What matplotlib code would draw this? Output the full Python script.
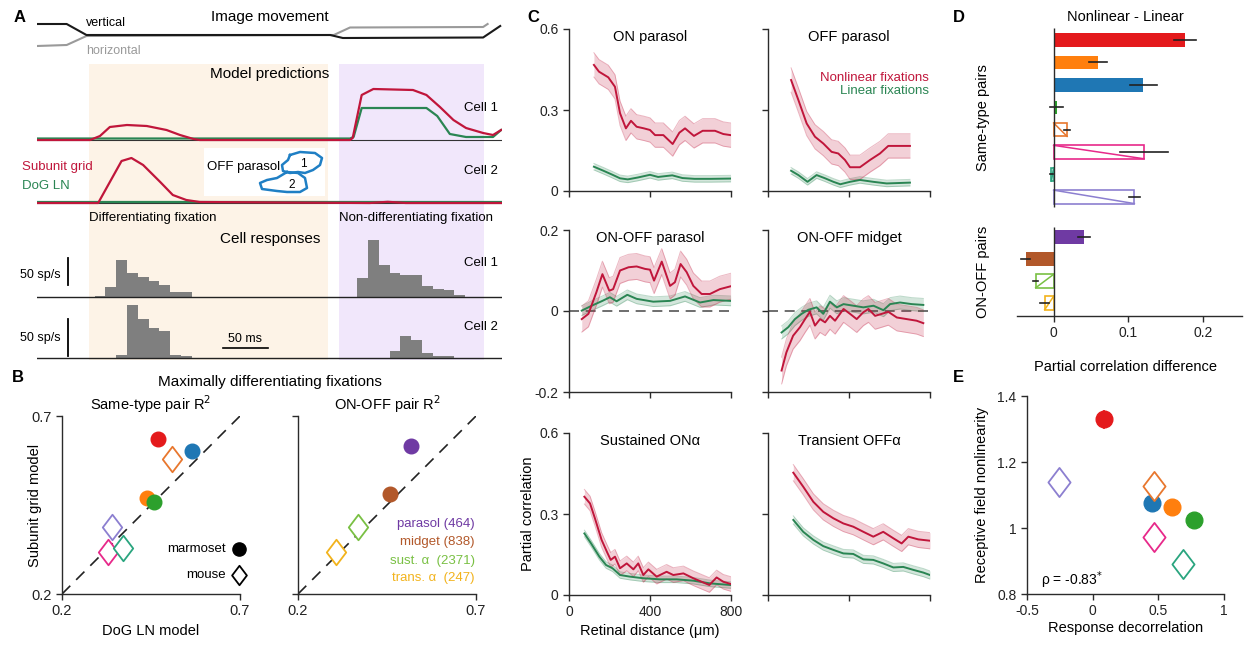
import numpy as np
import matplotlib
matplotlib.use('Agg')
import matplotlib.pyplot as plt
from matplotlib.path import Path

plt.rcParams['font.family'] = ['Liberation Sans', 'DejaVu Sans']
plt.rcParams['axes.linewidth'] = 1.0
plt.rcParams['xtick.major.width'] = 1.0
plt.rcParams['ytick.major.width'] = 1.0

# ---------------- data ----------------
# A: image movement (ms, arbitrary position)
vert_t = [0, 33, 55, 326, 340, 496, 515]
vert = [22, 22, 11, 11, 8, 8.5, 20]
horiz_t = [0, 33, 55, 330, 348, 496, 501]
horiz = [0, 1, 10, 11, 18.5, 19, 22]
diff_fix = (58, 323)
nondiff_fix = (336, 497)

# A: model predictions (arbitrary units)
m1_t = [0, 59, 70, 81, 100, 122, 144, 159, 174, 181, 348, 351, 361, 374, 418, 433, 448, 463, 477, 496, 507, 516]
m1_sub = [0, 0, 4, 13, 15, 14, 10, 5, 1, 0, 0, 2, 45, 51, 50, 45, 33, 20, 12, 7, 5, 10]
m1_dog_t = [0, 348, 352, 361, 433, 445, 459, 477, 507, 516]
m1_dog = [1.5, 1.5, 3, 32, 32, 24, 6, 3, 3, 10]
m2_t = [0, 68, 94, 105, 118, 137, 151, 166, 181, 370, 390, 410, 517]
m2_sub = [0, 0, 42, 45, 38, 21, 8, 3, 1, 0, 1.2, 0, 0]
m2_dog_t = [0, 517]
m2_dog = [0.6, 0.6]

# A: cell responses (bin start ms, rate sp/s)
r1_diff_t = [64, 76, 88, 100, 112, 124, 136, 148, 160]
r1_diff = [2, 18, 68, 44, 37, 30, 22, 9, 9]
r1_nd_t = [356, 368, 380, 392, 404, 416, 428, 440, 452, 464]
r1_nd = [35, 105, 59, 44, 41, 41, 20, 15, 13, 4]
r2_diff_t = [88, 100, 112, 124, 136, 148, 160]
r2_diff = [4, 72, 53, 41, 36, 4, 3]
r2_nd_t = [392, 404, 416, 428, 440, 452]
r2_nd = [9, 30, 24, 7, 3, 3]
bin_ms = 12

# A: receptive field outlines of the OFF parasol pair
rf1_x = [290, 300, 315, 322, 320, 313, 305, 298, 290, 283, 282, 288, 290]
rf1_y = [155, 152, 153, 158, 165, 170, 173, 172, 173, 171, 165, 160, 155]
rf2_x = [287, 298, 305, 307, 300, 287, 277, 262, 260, 267, 277, 282, 287]
rf2_y = [172, 173, 178, 188, 192, 192, 191, 189, 183, 180, 178, 175, 172]

# B: R^2 scatter
same_x = [0.470, 0.565, 0.439, 0.458, 0.509, 0.341, 0.330, 0.371]
same_y = [0.635, 0.602, 0.470, 0.458, 0.579, 0.388, 0.318, 0.329]
same_col = ['#e41a1c', '#1f77b4', '#ff7f0e', '#2ca02c', '#e8772e', '#8c7fd0', '#e7298a', '#2aa57f']
same_marmoset = [True, True, True, True, False, False, False, False]
onoff_x = [0.517, 0.458, 0.368, 0.307]
onoff_y = [0.616, 0.481, 0.388, 0.318]
onoff_col = ['#6f3aa3', '#b2582a', '#79c043', '#f2b31c']
onoff_marmoset = [True, True, False, False]
onoff_names = ['parasol (464)', 'midget (838)', 'sust. \u03b1  (2371)', 'trans. \u03b1  (247)']

# C: partial correlation vs distance
onp_x_nl = [123, 148, 194, 227, 252, 281, 306, 334, 370, 400, 425, 466, 512, 545, 573, 617, 660, 721, 762, 798]
onp_nl = [0.467, 0.442, 0.421, 0.386, 0.288, 0.232, 0.260, 0.238, 0.232, 0.226, 0.207, 0.207, 0.174, 0.216, 0.232, 0.204, 0.223, 0.223, 0.211, 0.207]
onp_x_lin = [123, 170, 215, 252, 290, 340, 400, 440, 510, 560, 620, 700, 798]
onp_lin = [0.090, 0.075, 0.060, 0.047, 0.043, 0.050, 0.060, 0.052, 0.058, 0.048, 0.045, 0.045, 0.046]
offp_x_nl = [114, 150, 191, 232, 273, 314, 347, 380, 405, 454, 504, 553, 594, 701]
offp_nl = [0.411, 0.337, 0.250, 0.201, 0.176, 0.145, 0.139, 0.115, 0.088, 0.088, 0.115, 0.139, 0.167, 0.167]
offp_x_lin = [114, 150, 195, 240, 282, 323, 357, 405, 454, 520, 586, 701]
offp_lin = [0.075, 0.059, 0.034, 0.059, 0.047, 0.034, 0.025, 0.034, 0.041, 0.034, 0.028, 0.031]
oop_x_nl = [63, 96, 135, 165, 199, 218, 252, 294, 334, 375, 400, 420, 458, 499, 523, 551, 581, 614, 655, 696, 745, 798]
oop_nl = [-0.020, -0.007, 0.046, 0.091, 0.050, 0.054, 0.100, 0.108, 0.110, 0.104, 0.102, 0.075, 0.122, 0.062, 0.071, 0.116, 0.096, 0.062, 0.042, 0.042, 0.054, 0.061]
oop_x_lin = [63, 112, 165, 202, 235, 288, 334, 416, 499, 573, 647, 713, 798]
oop_lin = [0.001, 0.013, 0.025, 0.034, 0.024, 0.040, 0.030, 0.023, 0.025, 0.036, 0.021, 0.027, 0.025]
oom_x_nl = [67, 91, 124, 158, 183, 207, 232, 257, 282, 306, 331, 373, 405, 438, 471, 496, 529, 562, 594, 636, 685, 734, 767]
oom_nl = [-0.147, -0.102, -0.061, -0.040, -0.020, -0.002, -0.036, -0.020, -0.028, -0.012, -0.024, 0.005, -0.007, -0.020, -0.003, 0.005, -0.012, -0.007, -0.002, -0.016, -0.020, -0.024, -0.030]
oom_x_lin = [67, 100, 133, 166, 199, 240, 273, 306, 340, 373, 422, 471, 521, 570, 603, 652, 710, 767]
oom_lin = [-0.053, -0.040, -0.020, -0.007, 0.003, 0.009, -0.007, 0.023, 0.009, 0.017, 0.013, 0.009, 0.013, 0.002, 0.017, 0.021, 0.017, 0.015]
son_x_nl = [76, 104, 128, 161, 189, 206, 227, 252, 285, 318, 342, 367, 392, 433, 482, 515, 565, 614, 655, 693, 729, 762, 798]
son_nl = [0.364, 0.339, 0.284, 0.204, 0.157, 0.130, 0.142, 0.099, 0.117, 0.095, 0.117, 0.074, 0.095, 0.068, 0.086, 0.074, 0.080, 0.062, 0.049, 0.037, 0.065, 0.049, 0.041]
son_x_lin = [76, 109, 150, 183, 215, 252, 301, 367, 449, 531, 614, 697, 798]
son_lin = [0.228, 0.191, 0.142, 0.111, 0.099, 0.074, 0.068, 0.062, 0.058, 0.058, 0.053, 0.043, 0.037]
toff_x_nl = [125, 174, 224, 273, 323, 372, 421, 471, 520, 569, 619, 660, 693, 742, 800]
toff_nl = [0.453, 0.401, 0.345, 0.308, 0.284, 0.265, 0.253, 0.234, 0.216, 0.234, 0.210, 0.191, 0.216, 0.206, 0.201]
toff_x_lin = [125, 174, 224, 273, 323, 372, 421, 471, 520, 569, 619, 668, 718, 767, 800]
toff_lin = [0.278, 0.234, 0.204, 0.181, 0.167, 0.154, 0.152, 0.132, 0.130, 0.117, 0.102, 0.104, 0.093, 0.083, 0.074]
c_titles = ['ON parasol', 'OFF parasol', 'ON-OFF parasol', 'ON-OFF midget', 'Sustained ON\u03b1', 'Transient OFF\u03b1']
c_err_nl = [0.045, 0.045, 0.032, 0.033, 0.027, 0.03]
c_err_lin = [0.012, 0.012, 0.012, 0.016, 0.012, 0.015]

# D: nonlinear - linear
d_same = [0.176, 0.059, 0.120, 0.004, 0.018, 0.121, -0.003, 0.108]
d_same_err = [0.015, 0.012, 0.018, 0.009, 0.004, 0.032, 0.002, 0.007]
d_same_col = ['#e41a1c', '#ff7f0e', '#1f77b4', '#2ca02c', '#e8772e', '#e7298a', '#2aa57f', '#8c7fd0']
d_same_open = [False, False, False, False, True, True, True, True]
d_onoff = [0.040, -0.037, -0.024, -0.012]
d_onoff_err = [0.008, 0.006, 0.003, 0.006]
d_onoff_col = ['#6f3aa3', '#b2582a', '#79c043', '#f2b31c']
d_onoff_open = [False, False, True, True]

# E: nonlinearity vs decorrelation
e_x = [0.083, 0.455, 0.602, 0.772, -0.254, 0.470, 0.470, 0.691]
e_y = [1.329, 1.075, 1.065, 1.024, 1.138, 1.127, 0.972, 0.891]
e_yerr = [0.03, 0.02, 0.0, 0.0, 0.0, 0.0, 0.0, 0.0]
e_col = ['#e41a1c', '#1f77b4', '#ff7f0e', '#2ca02c', '#8c7fd0', '#e8772e', '#e7298a', '#2aa57f']
e_marmoset = [True, True, True, True, False, False, False, False]

RED = '#c0163b'
GREEN = '#2a8553'
AX = '#2b2b2b'
DIAMOND = Path([(0, 1), (0.76, 0), (0, -1), (-0.76, 0), (0, 1)],
               [Path.MOVETO, Path.LINETO, Path.LINETO, Path.LINETO, Path.CLOSEPOLY])

W, H = 1246, 645
fig = plt.figure(figsize=(W / 100, H / 100), dpi=100)


def add_ax(x0, y0, x1, y1):
    return fig.add_axes([x0 / W, 1 - y1 / H, (x1 - x0) / W, (y1 - y0) / H])


def ftext(x, y, s, **kw):
    kw.setdefault('fontsize', 9.5)
    kw.setdefault('va', 'center')
    fig.text(x / W, 1 - y / H, s, **kw)


def style(ax, labelsize=10):
    for s in ['top', 'right']:
        ax.spines[s].set_visible(False)
    for s in ['left', 'bottom']:
        ax.spines[s].set_color(AX)
    ax.tick_params(direction='out', length=4, color=AX, labelsize=labelsize, labelcolor='#222')
    ax.patch.set_visible(False)


def blank(ax, ylim):
    ax.set_xlim(0, 517)
    ax.set_ylim(*ylim)
    ax.axis('off')


def marker(ax, x, y, col, filled, size=10.5, **kw):
    if filled:
        ax.plot(x, y, 'o', ms=size, mfc=col, mec=col, clip_on=False, **kw)
    else:
        ax.plot(x, y, marker=DIAMOND, ms=size * 1.75, mfc='white', mec=col, mew=1.3,
                ls='none', clip_on=False, **kw)


# ---------------- panel A ----------------
bg = add_ax(37, 64, 502, 360)
bg.axvspan(*diff_fix, color='#fdf3e7', lw=0)
bg.axvspan(*nondiff_fix, color='#f1e7fb', lw=0)
blank(bg, (0, 1))

mov = add_ax(37, 15, 502, 55)
mov.plot(horiz_t, horiz, color='#9a9a9a', lw=1.5)
mov.plot(vert_t, vert, color='#1a1a1a', lw=1.5)
blank(mov, (-9, 31))

mc1 = add_ax(37, 80, 502, 142)
mc1.axhline(0, color='#333', lw=0.8)
mc1.plot(m1_dog_t, m1_dog, color=GREEN, lw=1.6)
mc1.plot(m1_t, m1_sub, color=RED, lw=1.6)
blank(mc1, (-2, 60))

mc2 = add_ax(37, 150, 502, 205)
mc2.axhline(0, color='#333', lw=0.8)
mc2.plot(m2_dog_t, m2_dog, color=GREEN, lw=1.6)
mc2.plot(m2_t, m2_sub, color=RED, lw=1.6)
blank(mc2, (-2, 53))

rc1 = add_ax(37, 235, 502, 299)
rc1.bar(r1_diff_t, r1_diff, width=bin_ms, align='edge', color='#7f7f7f', lw=0)
rc1.bar(r1_nd_t, r1_nd, width=bin_ms, align='edge', color='#7f7f7f', lw=0)
rc1.axhline(0, color='#222', lw=1.0)
rc1.plot([34, 34], [22, 72], color='k', lw=1.3)
blank(rc1, (-3.7, 114.8))

rc2 = add_ax(37, 300, 502, 360)
rc2.bar(r2_diff_t, r2_diff, width=bin_ms, align='edge', color='#7f7f7f', lw=0)
rc2.bar(r2_nd_t, r2_nd, width=bin_ms, align='edge', color='#7f7f7f', lw=0)
rc2.axhline(0, color='#222', lw=1.0)
rc2.plot([34, 34], [3, 53], color='k', lw=1.3)
rc2.plot([207, 257], [13.5, 13.5], color='k', lw=1.2)
blank(rc2, (-2.7, 78.4))

rf = add_ax(204, 148, 325, 196)
rf.set_facecolor('white')
rf.plot(rf1_x, rf1_y, color='#1f7fc4', lw=1.8)
rf.plot(rf2_x, rf2_y, color='#1f7fc4', lw=1.8)
rf.text(303, 164, '1', fontsize=8.5, ha='center', va='center')
rf.text(292, 185, '2', fontsize=8.5, ha='center', va='center')
rf.text(207, 167, 'OFF parasol', fontsize=9.5, va='center')
rf.set_xlim(204, 325)
rf.set_ylim(196, 148)
rf.set_xticks([])
rf.set_yticks([])
for s in rf.spines.values():
    s.set_visible(False)

ftext(14, 17, 'A', fontsize=12, fontweight='bold')
ftext(270, 17, 'Image movement', fontsize=11, ha='center')
ftext(86, 23, 'vertical', fontsize=9)
ftext(86, 51, 'horizontal', fontsize=9, color='#9a9a9a')
ftext(270, 74, 'Model predictions', fontsize=11, ha='center')
ftext(498, 108, 'Cell 1', ha='right', fontsize=9.5)
ftext(498, 171, 'Cell 2', ha='right', fontsize=9.5)
ftext(22, 167, 'Subunit grid', color=RED, fontsize=9.5)
ftext(22, 186, 'DoG LN', color=GREEN, fontsize=9.5)
ftext(89, 218, 'Differentiating fixation', fontsize=9.5)
ftext(339, 218, 'Non-differentiating fixation', fontsize=9.5)
ftext(270, 239, 'Cell responses', fontsize=11, ha='center')
ftext(498, 263, 'Cell 1', ha='right', fontsize=9.5)
ftext(498, 327, 'Cell 2', ha='right', fontsize=9.5)
ftext(61, 275, '50 sp/s', ha='right', fontsize=9)
ftext(61, 338, '50 sp/s', ha='right', fontsize=9)
ftext(245, 339, '50 ms', ha='center', fontsize=9)

# ---------------- panel B ----------------
ftext(12, 378, 'B', fontsize=12, fontweight='bold')
ftext(270, 382, 'Maximally differentiating fixations', fontsize=11, ha='center')

bl = add_ax(62, 416, 240, 594)
br = add_ax(298, 416, 476, 594)
for ax in (bl, br):
    style(ax, labelsize=10.5)
    ax.set_xlim(0.2, 0.7)
    ax.set_ylim(0.2, 0.7)
    ax.set_xticks([0.2, 0.7])
    ax.set_xticklabels(['0.2', '0.7'])
    ax.set_yticks([0.2, 0.7])
    ax.plot([0.2, 0.7], [0.2, 0.7], color='#222', lw=1.2, dashes=(7, 5))
bl.set_yticklabels(['0.2', '0.7'])
br.set_yticklabels([])
bl.set_title('Same-type pair R$^2$', fontsize=10.5, pad=4)
br.set_title('ON-OFF pair R$^2$', fontsize=10.5, pad=4)
bl.set_xlabel('DoG LN model', fontsize=10.5, labelpad=4)
bl.set_ylabel('Subunit grid model', fontsize=10.5, labelpad=-8)

bl.errorbar(same_x[6], same_y[6], xerr=0.025, color=same_col[6], lw=1.2, capsize=0)
for x, y, c, m in zip(same_x, same_y, same_col, same_marmoset):
    marker(bl, x, y, c, m)
for x, y, c, m in zip(onoff_x, onoff_y, onoff_col, onoff_marmoset):
    marker(br, x, y, c, m)

marker(bl, 0.994, 0.253, 'k', True, size=9.5, transform=bl.transAxes)
marker(bl, 0.994, 0.107, 'k', False, size=8, transform=bl.transAxes)
bl.text(0.92, 0.253, 'marmoset', transform=bl.transAxes, ha='right', va='center', fontsize=9.5)
bl.text(0.92, 0.107, 'mouse', transform=bl.transAxes, ha='right', va='center', fontsize=9.5)
for nm, c, yy in zip(onoff_names, onoff_col, [0.393, 0.292, 0.185, 0.09]):
    br.text(0.994, yy, nm, color=c, transform=br.transAxes,
            ha='right', va='center', fontsize=9.5)

# ---------------- panel C ----------------
ftext(527, 17, 'C', fontsize=12, fontweight='bold')
c_series = [(onp_x_nl, onp_nl, onp_x_lin, onp_lin),
            (offp_x_nl, offp_nl, offp_x_lin, offp_lin),
            (oop_x_nl, oop_nl, oop_x_lin, oop_lin),
            (oom_x_nl, oom_nl, oom_x_lin, oom_lin),
            (son_x_nl, son_nl, son_x_lin, son_lin),
            (toff_x_nl, toff_nl, toff_x_lin, toff_lin)]
cols_px = [(569, 731), (768, 930)]
rows_px = [(29, 191), (230, 392), (433, 595)]
for k, (xn, yn, xl, yl) in enumerate(c_series):
    r, c = divmod(k, 2)
    ax = add_ax(cols_px[c][0], rows_px[r][0], cols_px[c][1], rows_px[r][1])
    style(ax, labelsize=10)
    ax.set_xlim(0, 800)
    ax.set_xticks([0, 400, 800])
    if r == 1:
        ax.set_ylim(-0.2, 0.2)
        ax.set_yticks([-0.2, 0, 0.2])
        ax.set_yticklabels(['-0.2', '0', '0.2'])
        ax.axhline(0, color='#555', lw=1.2, dashes=(6, 4), zorder=1)
    else:
        ax.set_ylim(0, 0.6)
        ax.set_yticks([0, 0.3, 0.6])
        ax.set_yticklabels(['0', '0.3', '0.6'])
    if c == 1:
        ax.set_yticklabels([])
    if k == 4:
        ax.set_xticklabels(['0', '400', '800'])
        ax.set_xlabel('Retinal distance (\u03bcm)', fontsize=10.5, labelpad=3)
        ax.set_ylabel('Partial correlation', fontsize=10.5, labelpad=3)
    else:
        ax.set_xticklabels([])
    for xs, ys, e, col in ((xl, yl, c_err_lin[k], GREEN), (xn, yn, c_err_nl[k], RED)):
        xs = np.array(xs)
        ys = np.array(ys)
        ax.fill_between(xs, ys - e, ys + e, color=col, alpha=0.2, lw=0, zorder=2)
        ax.plot(xs, ys - e, color=col, alpha=0.3, lw=0.7, zorder=2)
        ax.plot(xs, ys + e, color=col, alpha=0.3, lw=0.7, zorder=2)
        ax.plot(xs, ys, color=col, lw=1.4, zorder=3)
    ax.text(0.5, 0.95, c_titles[k], transform=ax.transAxes, ha='center', va='center', fontsize=10.5)
ftext(929, 78, 'Nonlinear fixations', color=RED, ha='right', fontsize=9.5)
ftext(929, 91, 'Linear fixations', color=GREEN, ha='right', fontsize=9.5)

# ---------------- panel D ----------------
ftext(953, 17, 'D', fontsize=12, fontweight='bold')
dax = add_ax(1017, 28, 1242, 316)
style(dax, labelsize=10)
dax.spines['left'].set_visible(False)
dax.tick_params(axis='y', left=False, labelleft=False)
pos_same = np.arange(len(d_same))
pos_onoff = np.arange(len(d_onoff)) * 0.98 + len(d_same) + 0.8
bh = 0.6
for vals, errs, cols, opens, pos in ((d_same, d_same_err, d_same_col, d_same_open, pos_same),
                                     (d_onoff, d_onoff_err, d_onoff_col, d_onoff_open, pos_onoff)):
    for v, e, c, o, p in zip(vals, errs, cols, opens, pos):
        if o:
            dax.barh(p, v, height=bh, color='white', edgecolor=c, lw=1.2, zorder=2)
            dax.plot([0, v], [p - bh / 2, p + bh / 2], color=c, lw=1.1, zorder=3)
        else:
            dax.barh(p, v, height=bh, color=c, lw=0, zorder=2)
        dax.plot([v - e, v + e], [p, p], color='#222', lw=1.2, zorder=4)
dax.vlines(0, -0.54, 7.46, color=AX, lw=1.0, zorder=5)
dax.vlines(0, 8.35, 12.32, color=AX, lw=1.0, zorder=5)
dax.set_ylim(12.32, -0.54)
dax.set_xlim(-0.049, 0.252)
dax.set_xticks([0, 0.1, 0.2])
dax.set_xticklabels(['0', '0.1', '0.2'])
ftext(1125, 17, 'Nonlinear - Linear', fontsize=10.5, ha='center')
ftext(1125, 367, 'Partial correlation difference', fontsize=10.5, ha='center')
ftext(983, 118, 'Same-type pairs', fontsize=10.5, ha='center', rotation=90)
ftext(983, 272, 'ON-OFF pairs', fontsize=10.5, ha='center', rotation=90)

# ---------------- panel E ----------------
ftext(953, 378, 'E', fontsize=12, fontweight='bold')
eax = add_ax(1027, 396, 1224, 594)
style(eax, labelsize=10)
eax.set_xlim(-0.5, 1)
eax.set_ylim(0.8, 1.4)
eax.set_xticks([-0.5, 0, 0.5, 1])
eax.set_xticklabels(['-0.5', '0', '0.5', '1'])
eax.set_yticks([0.8, 1, 1.2, 1.4])
eax.set_yticklabels(['0.8', '1', '1.2', '1.4'])
for x, y, ye, c, m in zip(e_x, e_y, e_yerr, e_col, e_marmoset):
    if ye > 0:
        eax.errorbar(x, y, yerr=ye, color=c, lw=1.2, capsize=0)
    marker(eax, x, y, c, m, size=12)
eax.text(0.07, 0.07, '\u03c1 = -0.83$^{*}$', transform=eax.transAxes, fontsize=10, va='center')
eax.set_xlabel('Response decorrelation', fontsize=10.5, labelpad=2)
eax.set_ylabel('Receptive field nonlinearity', fontsize=10.5, labelpad=6)

fig.savefig('out.png', dpi=100)
